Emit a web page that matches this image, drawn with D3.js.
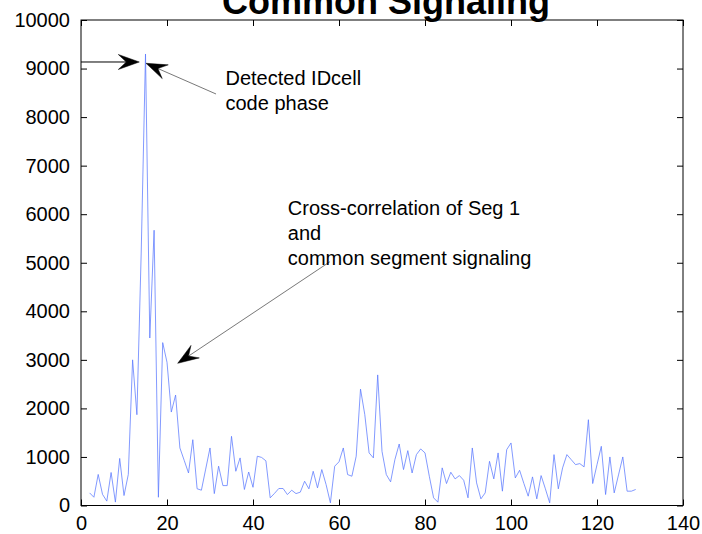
<!DOCTYPE html>
<html>
<head>
<meta charset="utf-8">
<script src="https://cdn.jsdelivr.net/npm/d3@7"></script>
<style>
  html, body { margin: 0; padding: 0; background: #fff; }
  svg { display: block; font-family: "Liberation Sans", Arial, Helvetica, sans-serif; }
</style>
</head>
<body>
<svg id="chart" width="702" height="534"></svg>
<script>
// Correlation magnitude per code-phase sample (samples start at index 2)
const firstSample = 2;
const corrValues = [
  260, 170, 640, 230, 90, 680, 70, 970, 205, 640,
  3000, 1870, 5200, 9300, 3450, 5670, 170, 3355, 2950, 1925,
  2275, 1185, 930, 670, 1355, 345, 315, 750, 1185, 245,
  810, 410, 410, 1425, 705, 980, 330, 690, 375, 1015,
  990, 920, 158, 250, 350, 350, 225, 315, 245, 275,
  500, 343, 705, 363, 740, 430, 55, 810, 900, 1185,
  637, 603, 1015, 2397, 1870, 1083, 980, 2690, 1115, 637,
  487, 945, 1267, 740, 1130, 670, 1048, 1165, 1083, 603,
  158, 68, 775, 452, 685, 548, 616, 520, 158, 1185,
  466, 137, 260, 910, 548, 1083, 295, 1150, 1288, 568,
  726, 452, 192, 589, 137, 616, 343, 55, 1048, 343,
  775, 1048, 945, 842, 863, 795, 1767, 452, 840, 1219,
  226, 1000, 260, 630, 1000, 295, 295, 330
];

const xTicks = [0, 20, 40, 60, 80, 100, 120, 140];
const yTicks = [0, 1000, 2000, 3000, 4000, 5000, 6000, 7000, 8000, 9000, 10000];
const titleText = "Common Signaling";
const peakLabel = ["Detected IDcell", "code phase"];
const crossLabel = ["Cross-correlation of Seg 1", "and", "common segment signaling"];

const svg = d3.select("#chart");
const plotLeft = 81, plotRight = 683, plotTop = 20, plotBottom = 505.5;

const x = d3.scaleLinear().domain([0, 140]).range([plotLeft, plotRight]);
const y = d3.scaleLinear().domain([0, 10000]).range([plotBottom, plotTop]);

const points = corrValues.map((v, i) => ({ s: firstSample + i, v }));

// Title (its upper half runs past the top edge of the figure)
svg.append("text")
  .attr("x", (plotLeft + plotRight) / 2 + 4)
  .attr("y", 14)
  .attr("text-anchor", "middle")
  .attr("font-weight", "bold")
  .attr("font-size", 36)
  .attr("fill", "#000")
  .text(titleText);

// Data line
svg.append("path")
  .datum(points)
  .attr("fill", "none")
  .attr("stroke", "#5a78ff")
  .attr("stroke-width", 0.75)
  .attr("d", d3.line().x(d => x(d.s)).y(d => y(d.v)));

// Axes with inward ticks on all four sides
function styleAxis(g) {
  g.select(".domain").remove();
  g.selectAll(".tick line").attr("stroke", "#000").attr("stroke-width", 1);
  g.selectAll(".tick text").attr("fill", "#000").attr("font-size", 20)
    .attr("font-family", "Liberation Sans, Arial, Helvetica, sans-serif");
}

svg.append("g")
  .attr("transform", `translate(0,${plotBottom})`)
  .call(d3.axisBottom(x).tickValues(xTicks).tickFormat(d3.format("d"))
    .tickSizeInner(-6).tickSizeOuter(0).tickPadding(10))
  .call(styleAxis);

svg.append("g")
  .attr("transform", `translate(0,${plotTop})`)
  .call(d3.axisTop(x).tickValues(xTicks).tickFormat("")
    .tickSizeInner(-6).tickSizeOuter(0))
  .call(styleAxis);

svg.append("g")
  .attr("transform", `translate(${plotLeft},0)`)
  .call(d3.axisLeft(y).tickValues(yTicks).tickFormat(d3.format("d"))
    .tickSizeInner(-6).tickSizeOuter(0).tickPadding(11))
  .call(styleAxis);

svg.append("g")
  .attr("transform", `translate(${plotRight},0)`)
  .call(d3.axisRight(y).tickValues(yTicks).tickFormat("")
    .tickSizeInner(-6).tickSizeOuter(0))
  .call(styleAxis);

// Axes box
svg.append("rect")
  .attr("x", plotLeft).attr("y", plotTop)
  .attr("width", plotRight - plotLeft).attr("height", plotBottom - plotTop)
  .attr("fill", "none").attr("stroke", "#000").attr("stroke-width", 1);

// Arrow annotations (data coordinates: tail -> tip)
function arrow(tail, tip, lineColor, lineWidth) {
  const tx = x(tail[0]), ty = y(tail[1]);
  const px = x(tip[0]), py = y(tip[1]);
  const dx = px - tx, dy = py - ty;
  const len = Math.hypot(dx, dy);
  const ux = dx / len, uy = dy / len;
  const nx = -uy, ny = ux;
  const L = 21, W = 7.5, N = 13;
  svg.append("line")
    .attr("x1", tx).attr("y1", ty)
    .attr("x2", px - ux * N).attr("y2", py - uy * N)
    .attr("stroke", lineColor).attr("stroke-width", lineWidth);
  const head = [
    [px, py],
    [px - ux * L + nx * W, py - uy * L + ny * W],
    [px - ux * N, py - uy * N],
    [px - ux * L - nx * W, py - uy * L - ny * W]
  ];
  svg.append("path")
    .attr("d", "M" + head.map(p => p.join(",")).join("L") + "Z")
    .attr("fill", "#000").attr("stroke", "#000").attr("stroke-width", 0.5);
}

arrow([0, 9135], [13.56, 9135], "#000", 1);
arrow([31.4, 8476], [15.12, 9108], "#555", 0.8);
arrow([57.9, 5022], [22.49, 2929], "#555", 0.8);

// Annotation texts
function multiline(lines, sx, sv, lineHeight) {
  const t = svg.append("text")
    .attr("x", x(sx)).attr("y", y(sv))
    .attr("font-size", 20).attr("fill", "#000");
  lines.forEach((s, i) => {
    t.append("tspan").attr("x", x(sx)).attr("dy", i === 0 ? 0 : lineHeight).text(s);
  });
}
multiline(peakLabel, 33.6, 8660, 25);
multiline(crossLabel, 48.1, 5983, 25);
</script>
</body>
</html>
